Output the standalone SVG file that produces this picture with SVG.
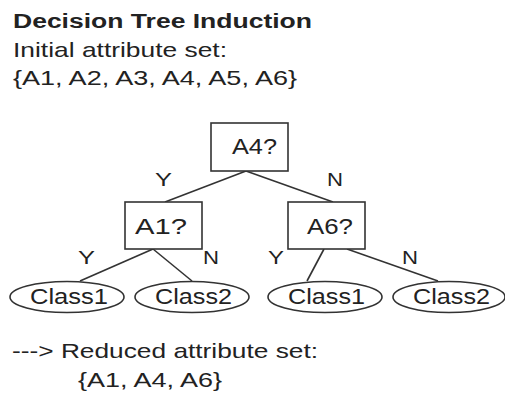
<svg xmlns="http://www.w3.org/2000/svg" width="505" height="396" viewBox="0 0 505 396">
<style>
text{font-family:"Liberation Sans",Arial,sans-serif;fill:#222}
.t{font-size:21px}
.n{font-size:22px}
.l{font-size:19px}
.b{fill:#fff;stroke:#333;stroke-width:1.6}
.e{stroke:#333;stroke-width:1.6;fill:none}
</style>
<rect width="505" height="396" fill="#fff"/>
<text x="13" y="28" font-size="20" font-weight="bold" textLength="299" lengthAdjust="spacingAndGlyphs">Decision Tree Induction</text>
<text class="t" x="13" y="57" textLength="214" lengthAdjust="spacingAndGlyphs">Initial attribute set:</text>
<text class="t" x="13" y="85" textLength="284" lengthAdjust="spacingAndGlyphs">{A1, A2, A3, A4, A5, A6}</text>
<g id="connectors">
<line class="e" x1="246" y1="171" x2="165" y2="202"/>
<line class="e" x1="246" y1="171" x2="333" y2="202"/>
<line class="e" x1="153" y1="249" x2="80" y2="281"/>
<line class="e" x1="153" y1="249" x2="192" y2="281"/>
<line class="e" x1="324" y1="249" x2="307" y2="281"/>
<line class="e" x1="347" y1="249" x2="438" y2="281"/>
<text class="l" x="155" y="186" textLength="17" lengthAdjust="spacingAndGlyphs">Y</text>
<text class="l" x="327" y="186" textLength="16" lengthAdjust="spacingAndGlyphs">N</text>
<text class="l" x="78" y="264" textLength="17" lengthAdjust="spacingAndGlyphs">Y</text>
<text class="l" x="203" y="264" textLength="16" lengthAdjust="spacingAndGlyphs">N</text>
<text class="l" x="268" y="264" textLength="16" lengthAdjust="spacingAndGlyphs">Y</text>
<text class="l" x="402" y="264" textLength="16" lengthAdjust="spacingAndGlyphs">N</text>
</g>
<g id="A4">
<rect class="b" x="211" y="123" width="77" height="48"/>
<text class="n" x="232" y="154" textLength="45" lengthAdjust="spacingAndGlyphs">A4?</text>
</g>
<g id="A1">
<rect class="b" x="125" y="202" width="77" height="47"/>
<text class="n" x="135" y="234" textLength="52" lengthAdjust="spacingAndGlyphs">A1?</text>
</g>
<g id="A6">
<rect class="b" x="288" y="202" width="77" height="47"/>
<text class="n" x="307" y="234" textLength="46" lengthAdjust="spacingAndGlyphs">A6?</text>
</g>
<g id="c1a">
<ellipse class="e" cx="67" cy="297" rx="57" ry="15.5"/>
<text class="n" x="30" y="304" textLength="78" lengthAdjust="spacingAndGlyphs">Class1</text>
</g>
<g id="c2a">
<ellipse class="e" cx="192" cy="297" rx="57" ry="15.5"/>
<text class="n" x="155" y="304" textLength="77" lengthAdjust="spacingAndGlyphs">Class2</text>
</g>
<g id="c1b">
<ellipse class="e" cx="325" cy="297" rx="57" ry="15.5"/>
<text class="n" x="288" y="304" textLength="77" lengthAdjust="spacingAndGlyphs">Class1</text>
</g>
<g id="c2b">
<ellipse class="e" cx="449" cy="297" rx="56" ry="15.5"/>
<text class="n" x="413" y="304" textLength="77" lengthAdjust="spacingAndGlyphs">Class2</text>
</g>
<text class="t" x="12" y="358" textLength="306" lengthAdjust="spacingAndGlyphs">---&gt; Reduced attribute set:</text>
<text class="t" x="78" y="387" textLength="144" lengthAdjust="spacingAndGlyphs">{A1, A4, A6}</text>
</svg>
